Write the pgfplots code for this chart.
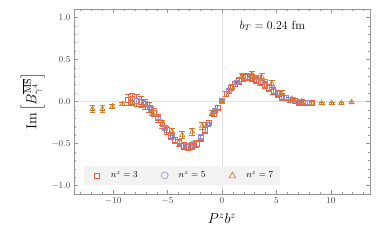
\documentclass[border=0pt]{standalone}
\usepackage{pgfplots}
\pgfplotsset{compat=1.18}
\usepackage{pgfplotstable}
\definecolor{cA}{RGB}{232,100,70}
\definecolor{cB}{RGB}{150,140,210}
\definecolor{cC}{RGB}{205,125,40}
\definecolor{fr}{RGB}{150,150,150}
\definecolor{lg}{RGB}{242,242,242}

\pgfplotstableread{
x y e
-8.63 0.02 0.07
-8.24 0.03 0.07
-7.85 0.01 0.07
-7.45 0.00 0.06
-7.06 -0.03 0.06
-6.67 -0.07 0.06
-6.28 -0.13 0.05
-5.88 -0.20 0.05
-5.49 -0.27 0.05
-5.10 -0.34 0.05
-4.71 -0.41 0.04
-4.32 -0.46 0.04
-3.92 -0.49 0.04
-3.53 -0.53 0.04
-3.14 -0.54 0.04
-2.75 -0.53 0.04
-2.35 -0.50 0.04
-1.96 -0.43 0.04
-1.57 -0.34 0.04
-1.18 -0.25 0.03
-0.78 -0.15 0.03
-0.39 -0.07 0.03
0.00 0.01 0.02
0.39 0.09 0.03
0.78 0.16 0.03
1.18 0.21 0.03
1.57 0.25 0.04
1.96 0.28 0.04
2.35 0.29 0.04
2.75 0.28 0.04
3.14 0.26 0.04
3.53 0.23 0.04
3.92 0.20 0.04
4.31 0.16 0.04
4.71 0.13 0.04
5.10 0.09 0.04
5.49 0.06 0.04
5.88 0.04 0.03
6.27 0.02 0.03
6.67 0.01 0.03
7.06 -0.01 0.03
7.45 -0.01 0.03
7.84 -0.02 0.03
8.24 -0.02 0.03
}\tabA

\pgfplotstableread{
x y e
-7.85 0.01 0.03
-7.19 -0.02 0.03
-6.54 -0.09 0.02
-5.89 -0.19 0.02
-5.23 -0.31 0.02
-4.58 -0.41 0.02
-3.92 -0.48 0.02
-3.27 -0.52 0.02
-2.62 -0.50 0.02
-1.96 -0.42 0.02
-1.31 -0.27 0.02
-0.65 -0.11 0.02
0.00 0.01 0.01
0.65 0.13 0.02
1.31 0.23 0.02
1.96 0.29 0.02
2.62 0.31 0.02
3.27 0.29 0.02
3.92 0.24 0.02
4.58 0.17 0.02
5.23 0.10 0.02
5.89 0.05 0.02
6.54 0.02 0.02
7.19 0.00 0.02
7.85 -0.01 0.02
}\tabB

\pgfplotstableread{
x y e
-11.90 -0.09 0.04
-10.98 -0.09 0.04
-10.07 -0.06 0.025
-9.15 -0.03 0.02
-8.24 -0.01 0.02
-7.32 -0.05 0.02
-6.41 -0.13 0.03
-5.49 -0.25 0.03
-4.58 -0.36 0.04
-3.66 -0.40 0.04
-2.75 -0.36 0.04
-1.83 -0.29 0.04
-0.92 -0.14 0.03
0.00 0.00 0.02
0.92 0.17 0.03
1.83 0.30 0.03
2.75 0.32 0.04
3.66 0.29 0.04
4.58 0.21 0.04
5.49 0.10 0.03
6.41 0.03 0.02
7.32 0.00 0.02
8.24 -0.02 0.02
9.15 -0.02 0.015
10.07 -0.02 0.015
10.98 -0.02 0.015
11.90 -0.01 0.015
}\tabC

\begin{document}
\begin{tikzpicture}
\begin{axis}[
  at={(0,0)}, anchor=south west,
  scale only axis,
  width=296bp, height=185bp,
  xmin=-13.6, xmax=13.6,
  ymin=-1.1, ymax=1.1,
  axis line style={fr},
  every tick/.style={fr},
  tick align=inside,
  major tick length=4bp,
  minor tick length=2bp,
  xtick={-10,-5,0,5,10},
  minor xtick={-13,...,13},
  ytick={-1,-0.5,0,0.5,1},
  minor ytick={-1.1,-1,...,1.1},
  yticklabel style={/pgf/number format/fixed,/pgf/number format/precision=1,/pgf/number format/fixed zerofill},
  tick label style={font=\small, text=black!75},
  xlabel={$P^z b^z$},
  ylabel={$\mathrm{Im}\left[B^{\overline{\mathrm{MS}}}_{\gamma^4}\right]$},
  label style={font=\Large},
  ylabel style={yshift=0bp},
  xlabel style={yshift=-3bp},
  extra x ticks={0}, extra x tick labels={},
  extra x tick style={grid=major, major grid style={black!12, line width=0.6pt}},
  extra y ticks={0}, extra y tick labels={},
  extra y tick style={grid=major, major grid style={black!12, line width=0.6pt}},
  legend columns=3,
  legend style={at={(axis cs:-12.7,-1.0)}, anchor=south west, fill=lg, draw=none,
    font=\small, inner xsep=5pt, inner ysep=4pt,
    /tikz/every even column/.append style={column sep=17bp}},
  legend cell align=left,
  error bars/y dir=both, error bars/y explicit,
]
\addplot[only marks, cA, mark=square, mark size=2.4pt, mark options={solid, line width=0.6pt},
  error bars/error bar style={cA, line width=0.6pt}, error bars/error mark options={rotate=90, mark size=3pt, cA, line width=0.6pt},
  legend image code/.code={\path[draw=none,fill=none] (0,0) -- (20bp,0); \draw[cA, line width=0.6pt] (8bp-2.6pt,-2.6pt) rectangle (8bp+2.6pt,2.6pt);}]
  table[x=x, y=y, y error=e]{\tabA};
\addlegendentry{$n^z=3$}
\addplot[only marks, cB, mark=square, mark size=2.3pt, mark options={solid, line width=0.6pt},
  error bars/error bar style={cB, line width=0.6pt}, error bars/error mark options={rotate=90, mark size=2.6pt, cB, line width=0.6pt},
  legend image code/.code={\path[draw=none,fill=none] (0,0) -- (20bp,0); \draw[cB, line width=0.6pt] (8bp,0) circle (3.5pt);}]
  table[x=x, y=y, y error=e]{\tabB};
\addlegendentry{$n^z=5$}
\addplot[only marks, cC, mark=triangle, mark size=3pt, mark options={solid, line width=0.7pt},
  error bars/error bar style={cC, line width=0.7pt}, error bars/error mark options={rotate=90, mark size=3pt, cC, line width=0.7pt},
  legend image code/.code={\path[draw=none,fill=none] (0,0) -- (20bp,0); \draw[cC, line width=0.7pt] (8bp-3.2pt,-2.4pt) -- (8bp+3.2pt,-2.4pt) -- (8bp,3.4pt) -- cycle;}]
  table[x=x, y=y, y error=e]{\tabC};
\addlegendentry{$n^z=7$}
\node[anchor=west, font=\large] at (axis cs:1.3,0.9) {$b_T=0.24~\mathrm{fm}$};
\end{axis}
\pgfresetboundingbox
\path[use as bounding box] (-74bp,-49bp) rectangle (308bp,194bp);
\end{tikzpicture}
\end{document}
